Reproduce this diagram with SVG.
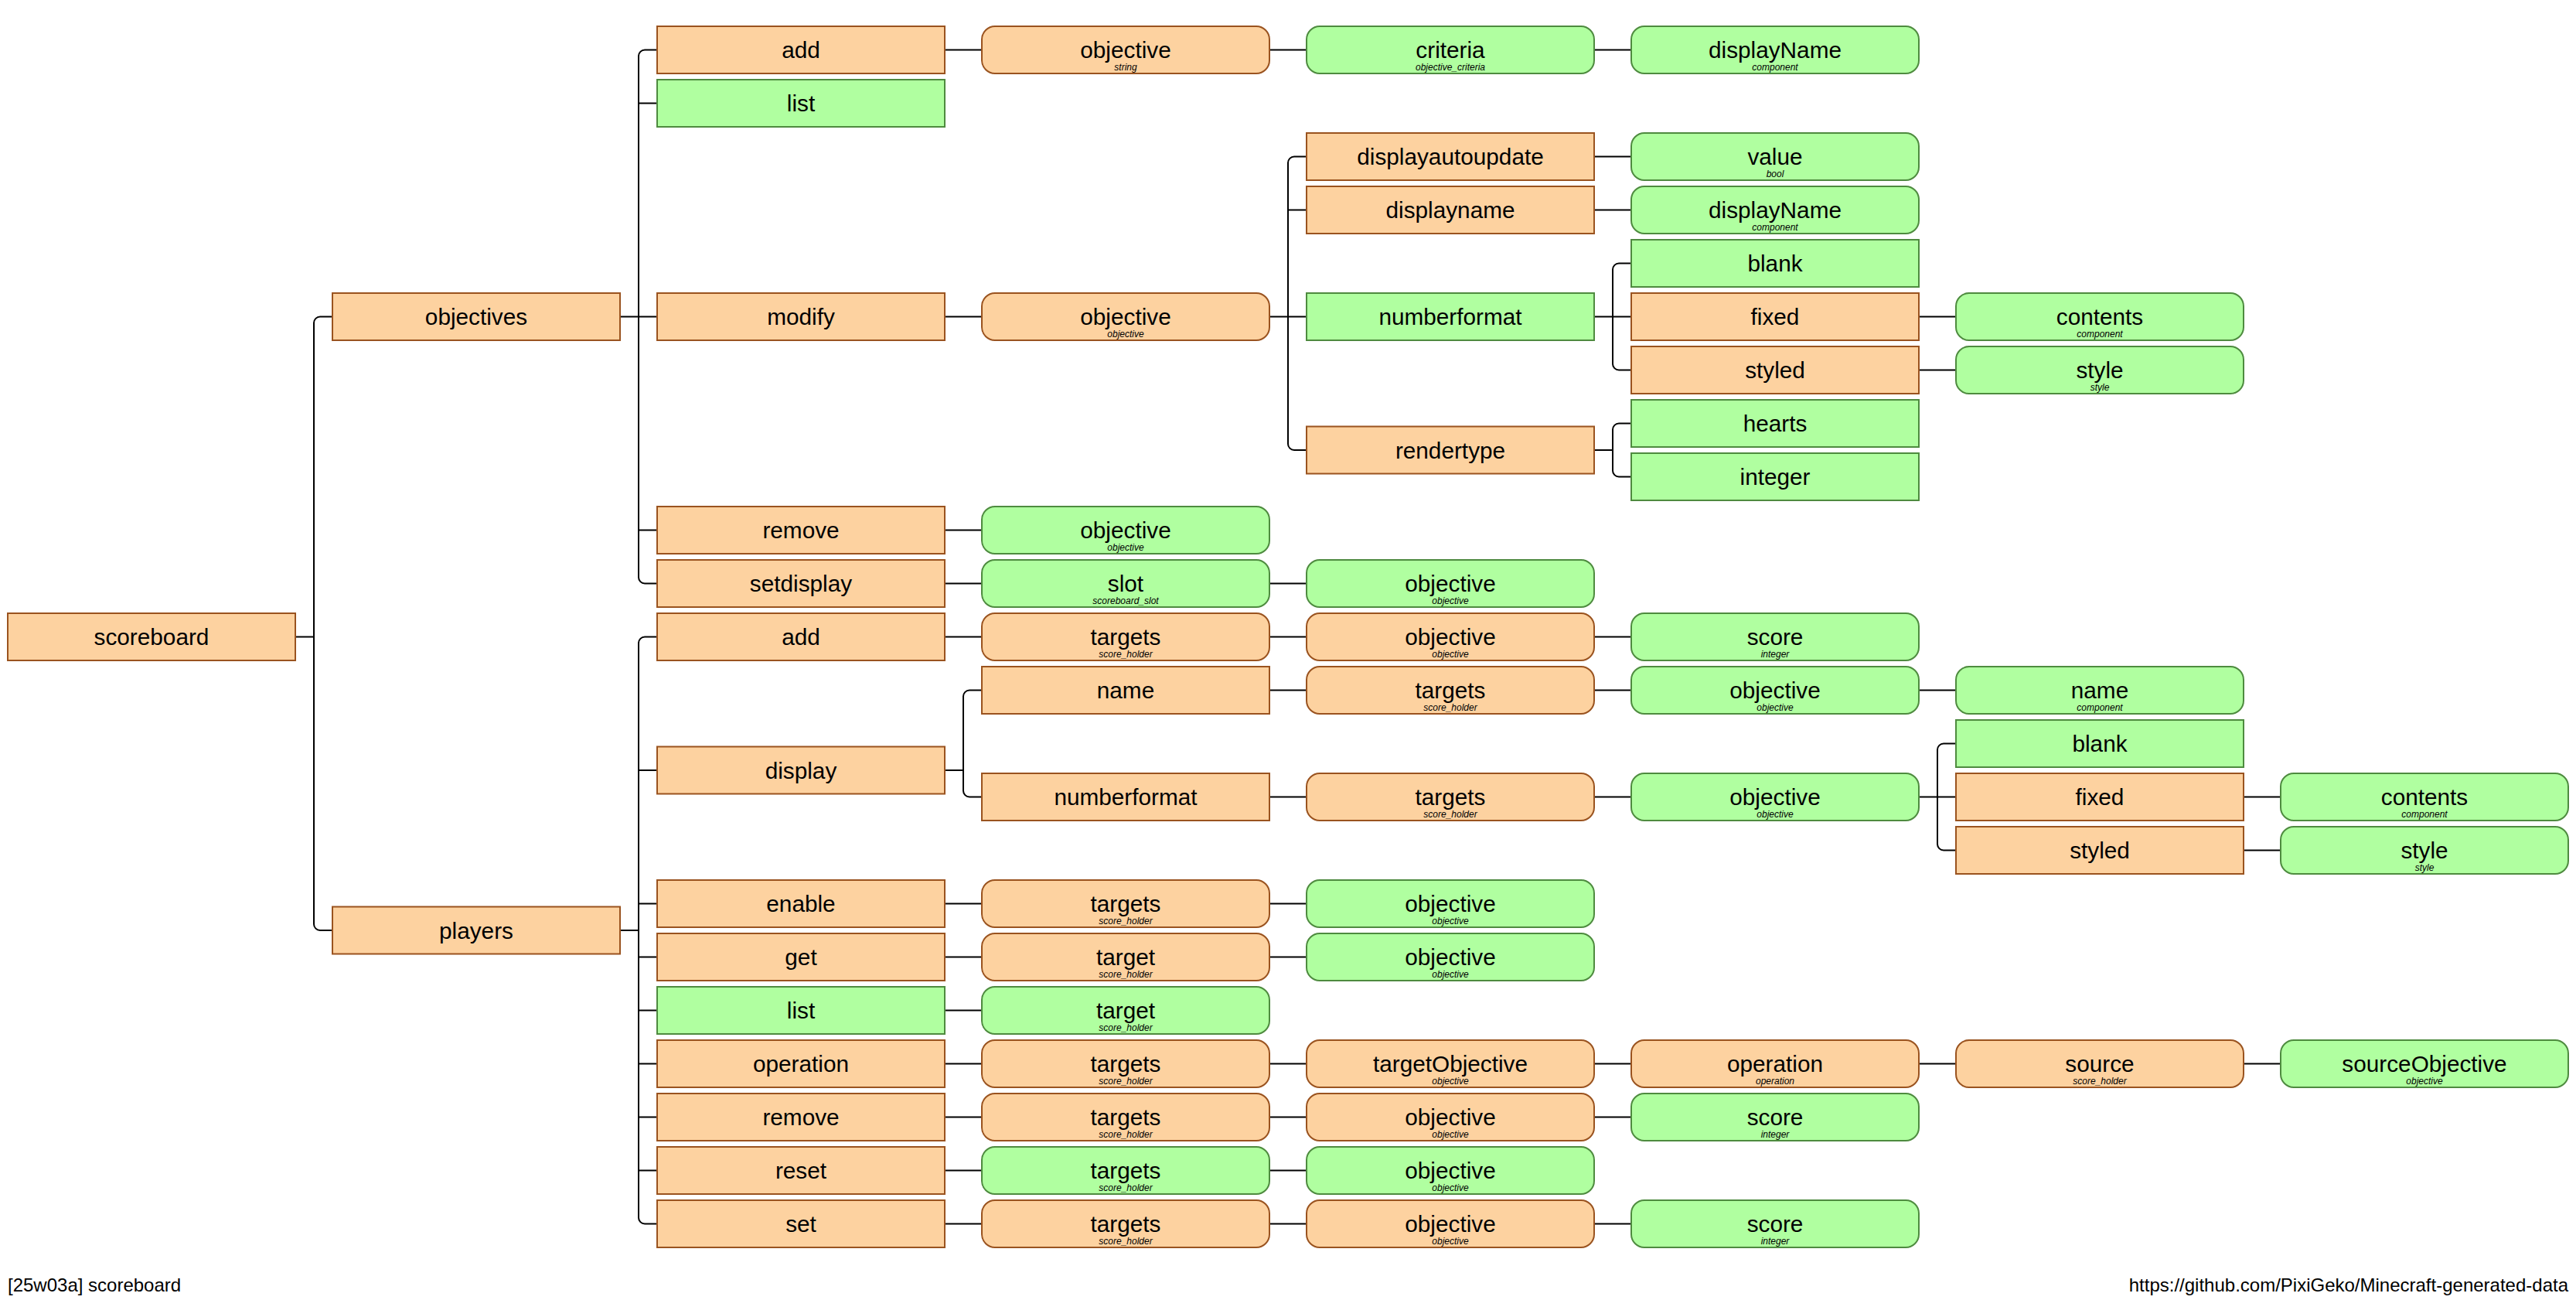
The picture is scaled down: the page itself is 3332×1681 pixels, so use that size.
<svg xmlns="http://www.w3.org/2000/svg" width="3332" height="1681" viewBox="0 0 3332 1681">
  <style>
    .node rect { stroke-width: 2; }
    .o rect { fill: #FDD2A0; stroke: #9A531F; }
    .g rect { fill: #B0FFA0; stroke: #4E8B3F; }
    .arg rect { rx: 17px; ry: 17px; }
    .t { font-family: "Liberation Sans", Arial, sans-serif; font-size: 29.75px; text-anchor: middle; fill: #000; }
    .s { font-family: "Liberation Sans", Arial, sans-serif; font-size: 12px; font-style: italic; text-anchor: middle; fill: #000; }
    .node text.t { transform: translateY(1px); }
    .node text.s { transform: translateY(2px); }
    .links path { fill: none; stroke: #000; stroke-width: 2; }
    .foot { font-family: "Liberation Sans", Arial, sans-serif; font-size: 24px; fill: #000; }
  </style>
  <rect width="3332" height="1681" fill="#fff"/>

  <!-- tree connectors -->
  <g id="connectors" class="links">
    <!-- scoreboard -->
    <path d="M382,823.5 H406"/>
    <path d="M430,409.5 H414 A8 8 0 0 0 406,417.5 V1195 A8 8 0 0 0 414,1203 H430"/>
    <!-- objectives -->
    <path d="M802,409.5 H850"/>
    <path d="M850,64.5 H834 A8 8 0 0 0 826,72.5 V746.5 A8 8 0 0 0 834,754.5 H850"/>
    <path d="M826,133.5 H850 M826,685.5 H850"/>
    <!-- objectives add -->
    <path d="M1222,64.5 H1270 M1642,64.5 H1690 M2062,64.5 H2110"/>
    <!-- objectives modify -->
    <path d="M1222,409.5 H1270"/>
    <path d="M1642,409.5 H1690"/>
    <path d="M1690,202.5 H1674 A8 8 0 0 0 1666,210.5 V574 A8 8 0 0 0 1674,582 H1690"/>
    <path d="M1666,271.5 H1690"/>
    <path d="M2062,202.5 H2110 M2062,271.5 H2110"/>
    <path d="M2062,409.5 H2110"/>
    <path d="M2110,340.5 H2094 A8 8 0 0 0 2086,348.5 V470.5 A8 8 0 0 0 2094,478.5 H2110"/>
    <path d="M2482,409.5 H2530 M2482,478.5 H2530"/>
    <path d="M2062,582 H2086"/>
    <path d="M2110,547.5 H2094 A8 8 0 0 0 2086,555.5 V608.5 A8 8 0 0 0 2094,616.5 H2110"/>
    <!-- objectives remove / setdisplay -->
    <path d="M1222,685.5 H1270"/>
    <path d="M1222,754.5 H1270 M1642,754.5 H1690"/>
    <!-- players -->
    <path d="M802,1203 H826"/>
    <path d="M850,823.5 H834 A8 8 0 0 0 826,831.5 V1574.5 A8 8 0 0 0 834,1582.5 H850"/>
    <path d="M826,996 H850 M826,1168.5 H850 M826,1237.5 H850 M826,1306.5 H850 M826,1375.5 H850 M826,1444.5 H850 M826,1513.5 H850"/>
    <!-- players add -->
    <path d="M1222,823.5 H1270 M1642,823.5 H1690 M2062,823.5 H2110"/>
    <!-- players display -->
    <path d="M1222,996 H1246"/>
    <path d="M1270,892.5 H1254 A8 8 0 0 0 1246,900.5 V1022.5 A8 8 0 0 0 1254,1030.5 H1270"/>
    <path d="M1642,892.5 H1690 M2062,892.5 H2110 M2482,892.5 H2530"/>
    <path d="M1642,1030.5 H1690 M2062,1030.5 H2110"/>
    <path d="M2482,1030.5 H2530"/>
    <path d="M2530,961.5 H2514 A8 8 0 0 0 2506,969.5 V1091.5 A8 8 0 0 0 2514,1099.5 H2530"/>
    <path d="M2902,1030.5 H2950 M2902,1099.5 H2950"/>
    <!-- players enable / get / list -->
    <path d="M1222,1168.5 H1270 M1642,1168.5 H1690"/>
    <path d="M1222,1237.5 H1270 M1642,1237.5 H1690"/>
    <path d="M1222,1306.5 H1270"/>
    <!-- players operation -->
    <path d="M1222,1375.5 H1270 M1642,1375.5 H1690 M2062,1375.5 H2110 M2482,1375.5 H2530 M2902,1375.5 H2950"/>
    <!-- players remove / reset / set -->
    <path d="M1222,1444.5 H1270 M1642,1444.5 H1690 M2062,1444.5 H2110"/>
    <path d="M1222,1513.5 H1270 M1642,1513.5 H1690"/>
    <path d="M1222,1582.5 H1270 M1642,1582.5 H1690 M2062,1582.5 H2110"/>
  </g>

  <!-- root -->
  <g id="n-scoreboard" class="node lit o"><rect x="10" y="793" width="372" height="61"/><text class="t" x="196" y="833">scoreboard</text></g>

  <!-- level 1 -->
  <g id="n-objectives" class="node lit o"><rect x="430" y="379" width="372" height="61"/><text class="t" x="616" y="419">objectives</text></g>
  <g id="n-players" class="node lit o"><rect x="430" y="1172.5" width="372" height="61"/><text class="t" x="616" y="1212.5">players</text></g>

  <!-- objectives subcommands -->
  <g id="n-obj-add" class="node lit o"><rect x="850" y="34" width="372" height="61"/><text class="t" x="1036" y="74">add</text></g>
  <g id="n-obj-list" class="node lit g"><rect x="850" y="103" width="372" height="61"/><text class="t" x="1036" y="143">list</text></g>
  <g id="n-obj-modify" class="node lit o"><rect x="850" y="379" width="372" height="61"/><text class="t" x="1036" y="419">modify</text></g>
  <g id="n-obj-remove" class="node lit o"><rect x="850" y="655" width="372" height="61"/><text class="t" x="1036" y="695">remove</text></g>
  <g id="n-obj-setdisplay" class="node lit o"><rect x="850" y="724" width="372" height="61"/><text class="t" x="1036" y="764">setdisplay</text></g>

  <!-- objectives add arguments -->
  <g id="n-obj-add-objective" class="node arg o"><rect x="1270" y="34" width="372" height="61"/><text class="t" x="1456" y="74">objective</text><text class="s" x="1456" y="89">string</text></g>
  <g id="n-obj-add-criteria" class="node arg g"><rect x="1690" y="34" width="372" height="61"/><text class="t" x="1876" y="74">criteria</text><text class="s" x="1876" y="89">objective_criteria</text></g>
  <g id="n-obj-add-displayName" class="node arg g"><rect x="2110" y="34" width="372" height="61"/><text class="t" x="2296" y="74">displayName</text><text class="s" x="2296" y="89">component</text></g>

  <!-- objectives modify -->
  <g id="n-obj-modify-objective" class="node arg o"><rect x="1270" y="379" width="372" height="61"/><text class="t" x="1456" y="419">objective</text><text class="s" x="1456" y="434">objective</text></g>
  <g id="n-mod-displayautoupdate" class="node lit o"><rect x="1690" y="172" width="372" height="61"/><text class="t" x="1876" y="212">displayautoupdate</text></g>
  <g id="n-mod-displayname" class="node lit o"><rect x="1690" y="241" width="372" height="61"/><text class="t" x="1876" y="281">displayname</text></g>
  <g id="n-mod-numberformat" class="node lit g"><rect x="1690" y="379" width="372" height="61"/><text class="t" x="1876" y="419">numberformat</text></g>
  <g id="n-mod-rendertype" class="node lit o"><rect x="1690" y="551.5" width="372" height="61"/><text class="t" x="1876" y="591.5">rendertype</text></g>
  <g id="n-mod-value" class="node arg g"><rect x="2110" y="172" width="372" height="61"/><text class="t" x="2296" y="212">value</text><text class="s" x="2296" y="227">bool</text></g>
  <g id="n-mod-displayName" class="node arg g"><rect x="2110" y="241" width="372" height="61"/><text class="t" x="2296" y="281">displayName</text><text class="s" x="2296" y="296">component</text></g>
  <g id="n-mod-nf-blank" class="node lit g"><rect x="2110" y="310" width="372" height="61"/><text class="t" x="2296" y="350">blank</text></g>
  <g id="n-mod-nf-fixed" class="node lit o"><rect x="2110" y="379" width="372" height="61"/><text class="t" x="2296" y="419">fixed</text></g>
  <g id="n-mod-nf-styled" class="node lit o"><rect x="2110" y="448" width="372" height="61"/><text class="t" x="2296" y="488">styled</text></g>
  <g id="n-mod-rt-hearts" class="node lit g"><rect x="2110" y="517" width="372" height="61"/><text class="t" x="2296" y="557">hearts</text></g>
  <g id="n-mod-rt-integer" class="node lit g"><rect x="2110" y="586" width="372" height="61"/><text class="t" x="2296" y="626">integer</text></g>
  <g id="n-mod-nf-contents" class="node arg g"><rect x="2530" y="379" width="372" height="61"/><text class="t" x="2716" y="419">contents</text><text class="s" x="2716" y="434">component</text></g>
  <g id="n-mod-nf-style" class="node arg g"><rect x="2530" y="448" width="372" height="61"/><text class="t" x="2716" y="488">style</text><text class="s" x="2716" y="503">style</text></g>

  <!-- objectives remove / setdisplay -->
  <g id="n-obj-remove-objective" class="node arg g"><rect x="1270" y="655" width="372" height="61"/><text class="t" x="1456" y="695">objective</text><text class="s" x="1456" y="710">objective</text></g>
  <g id="n-setdisplay-slot" class="node arg g"><rect x="1270" y="724" width="372" height="61"/><text class="t" x="1456" y="764">slot</text><text class="s" x="1456" y="779">scoreboard_slot</text></g>
  <g id="n-setdisplay-objective" class="node arg g"><rect x="1690" y="724" width="372" height="61"/><text class="t" x="1876" y="764">objective</text><text class="s" x="1876" y="779">objective</text></g>

  <!-- players subcommands -->
  <g id="n-pl-add" class="node lit o"><rect x="850" y="793" width="372" height="61"/><text class="t" x="1036" y="833">add</text></g>
  <g id="n-pl-display" class="node lit o"><rect x="850" y="965.5" width="372" height="61"/><text class="t" x="1036" y="1005.5">display</text></g>
  <g id="n-pl-enable" class="node lit o"><rect x="850" y="1138" width="372" height="61"/><text class="t" x="1036" y="1178">enable</text></g>
  <g id="n-pl-get" class="node lit o"><rect x="850" y="1207" width="372" height="61"/><text class="t" x="1036" y="1247">get</text></g>
  <g id="n-pl-list" class="node lit g"><rect x="850" y="1276" width="372" height="61"/><text class="t" x="1036" y="1316">list</text></g>
  <g id="n-pl-operation" class="node lit o"><rect x="850" y="1345" width="372" height="61"/><text class="t" x="1036" y="1385">operation</text></g>
  <g id="n-pl-remove" class="node lit o"><rect x="850" y="1414" width="372" height="61"/><text class="t" x="1036" y="1454">remove</text></g>
  <g id="n-pl-reset" class="node lit o"><rect x="850" y="1483" width="372" height="61"/><text class="t" x="1036" y="1523">reset</text></g>
  <g id="n-pl-set" class="node lit o"><rect x="850" y="1552" width="372" height="61"/><text class="t" x="1036" y="1592">set</text></g>

  <!-- players add -->
  <g id="n-pl-add-targets" class="node arg o"><rect x="1270" y="793" width="372" height="61"/><text class="t" x="1456" y="833">targets</text><text class="s" x="1456" y="848">score_holder</text></g>
  <g id="n-pl-add-objective" class="node arg o"><rect x="1690" y="793" width="372" height="61"/><text class="t" x="1876" y="833">objective</text><text class="s" x="1876" y="848">objective</text></g>
  <g id="n-pl-add-score" class="node arg g"><rect x="2110" y="793" width="372" height="61"/><text class="t" x="2296" y="833">score</text><text class="s" x="2296" y="848">integer</text></g>

  <!-- players display -->
  <g id="n-disp-name" class="node lit o"><rect x="1270" y="862" width="372" height="61"/><text class="t" x="1456" y="902">name</text></g>
  <g id="n-disp-numberformat" class="node lit o"><rect x="1270" y="1000" width="372" height="61"/><text class="t" x="1456" y="1040">numberformat</text></g>
  <g id="n-disp-name-targets" class="node arg o"><rect x="1690" y="862" width="372" height="61"/><text class="t" x="1876" y="902">targets</text><text class="s" x="1876" y="917">score_holder</text></g>
  <g id="n-disp-name-objective" class="node arg g"><rect x="2110" y="862" width="372" height="61"/><text class="t" x="2296" y="902">objective</text><text class="s" x="2296" y="917">objective</text></g>
  <g id="n-disp-name-name" class="node arg g"><rect x="2530" y="862" width="372" height="61"/><text class="t" x="2716" y="902">name</text><text class="s" x="2716" y="917">component</text></g>
  <g id="n-disp-nf-targets" class="node arg o"><rect x="1690" y="1000" width="372" height="61"/><text class="t" x="1876" y="1040">targets</text><text class="s" x="1876" y="1055">score_holder</text></g>
  <g id="n-disp-nf-objective" class="node arg g"><rect x="2110" y="1000" width="372" height="61"/><text class="t" x="2296" y="1040">objective</text><text class="s" x="2296" y="1055">objective</text></g>
  <g id="n-disp-nf-blank" class="node lit g"><rect x="2530" y="931" width="372" height="61"/><text class="t" x="2716" y="971">blank</text></g>
  <g id="n-disp-nf-fixed" class="node lit o"><rect x="2530" y="1000" width="372" height="61"/><text class="t" x="2716" y="1040">fixed</text></g>
  <g id="n-disp-nf-styled" class="node lit o"><rect x="2530" y="1069" width="372" height="61"/><text class="t" x="2716" y="1109">styled</text></g>
  <g id="n-disp-nf-contents" class="node arg g"><rect x="2950" y="1000" width="372" height="61"/><text class="t" x="3136" y="1040">contents</text><text class="s" x="3136" y="1055">component</text></g>
  <g id="n-disp-nf-style" class="node arg g"><rect x="2950" y="1069" width="372" height="61"/><text class="t" x="3136" y="1109">style</text><text class="s" x="3136" y="1124">style</text></g>

  <!-- players enable / get / list -->
  <g id="n-enable-targets" class="node arg o"><rect x="1270" y="1138" width="372" height="61"/><text class="t" x="1456" y="1178">targets</text><text class="s" x="1456" y="1193">score_holder</text></g>
  <g id="n-enable-objective" class="node arg g"><rect x="1690" y="1138" width="372" height="61"/><text class="t" x="1876" y="1178">objective</text><text class="s" x="1876" y="1193">objective</text></g>
  <g id="n-get-target" class="node arg o"><rect x="1270" y="1207" width="372" height="61"/><text class="t" x="1456" y="1247">target</text><text class="s" x="1456" y="1262">score_holder</text></g>
  <g id="n-get-objective" class="node arg g"><rect x="1690" y="1207" width="372" height="61"/><text class="t" x="1876" y="1247">objective</text><text class="s" x="1876" y="1262">objective</text></g>
  <g id="n-list-target" class="node arg g"><rect x="1270" y="1276" width="372" height="61"/><text class="t" x="1456" y="1316">target</text><text class="s" x="1456" y="1331">score_holder</text></g>

  <!-- players operation -->
  <g id="n-op-targets" class="node arg o"><rect x="1270" y="1345" width="372" height="61"/><text class="t" x="1456" y="1385">targets</text><text class="s" x="1456" y="1400">score_holder</text></g>
  <g id="n-op-targetObjective" class="node arg o"><rect x="1690" y="1345" width="372" height="61"/><text class="t" x="1876" y="1385">targetObjective</text><text class="s" x="1876" y="1400">objective</text></g>
  <g id="n-op-operation" class="node arg o"><rect x="2110" y="1345" width="372" height="61"/><text class="t" x="2296" y="1385">operation</text><text class="s" x="2296" y="1400">operation</text></g>
  <g id="n-op-source" class="node arg o"><rect x="2530" y="1345" width="372" height="61"/><text class="t" x="2716" y="1385">source</text><text class="s" x="2716" y="1400">score_holder</text></g>
  <g id="n-op-sourceObjective" class="node arg g"><rect x="2950" y="1345" width="372" height="61"/><text class="t" x="3136" y="1385">sourceObjective</text><text class="s" x="3136" y="1400">objective</text></g>

  <!-- players remove -->
  <g id="n-rm-targets" class="node arg o"><rect x="1270" y="1414" width="372" height="61"/><text class="t" x="1456" y="1454">targets</text><text class="s" x="1456" y="1469">score_holder</text></g>
  <g id="n-rm-objective" class="node arg o"><rect x="1690" y="1414" width="372" height="61"/><text class="t" x="1876" y="1454">objective</text><text class="s" x="1876" y="1469">objective</text></g>
  <g id="n-rm-score" class="node arg g"><rect x="2110" y="1414" width="372" height="61"/><text class="t" x="2296" y="1454">score</text><text class="s" x="2296" y="1469">integer</text></g>

  <!-- players reset -->
  <g id="n-reset-targets" class="node arg g"><rect x="1270" y="1483" width="372" height="61"/><text class="t" x="1456" y="1523">targets</text><text class="s" x="1456" y="1538">score_holder</text></g>
  <g id="n-reset-objective" class="node arg g"><rect x="1690" y="1483" width="372" height="61"/><text class="t" x="1876" y="1523">objective</text><text class="s" x="1876" y="1538">objective</text></g>

  <!-- players set -->
  <g id="n-set-targets" class="node arg o"><rect x="1270" y="1552" width="372" height="61"/><text class="t" x="1456" y="1592">targets</text><text class="s" x="1456" y="1607">score_holder</text></g>
  <g id="n-set-objective" class="node arg o"><rect x="1690" y="1552" width="372" height="61"/><text class="t" x="1876" y="1592">objective</text><text class="s" x="1876" y="1607">objective</text></g>
  <g id="n-set-score" class="node arg g"><rect x="2110" y="1552" width="372" height="61"/><text class="t" x="2296" y="1592">score</text><text class="s" x="2296" y="1607">integer</text></g>

  <!-- footer -->
  <text class="foot" x="10" y="1670">[25w03a] scoreboard</text>
  <text class="foot" x="3322" y="1670" text-anchor="end">https://github.com/PixiGeko/Minecraft-generated-data</text>
</svg>
